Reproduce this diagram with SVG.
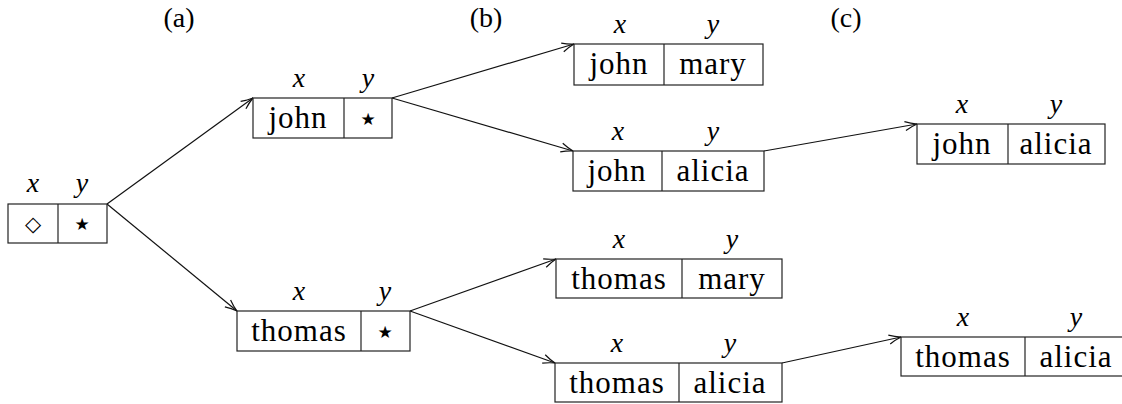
<svg xmlns="http://www.w3.org/2000/svg" width="1122" height="404" viewBox="0 0 1122 404">
<style>
.box{fill:#fff;stroke:#222;stroke-width:1.2}
.div{stroke:#222;stroke-width:1.2}
text{font-family:'Liberation Serif','Tinos','Nimbus Roman','Times New Roman','DejaVu Serif',serif;fill:#000;text-anchor:middle}
.t{font-size:31px;letter-spacing:1px}
.v{font-style:italic;font-size:28px}
.cap{font-size:28px}
.sym{font-family:'DejaVu Sans',sans-serif;font-size:17px}
.edge{stroke:#111;stroke-width:1.2;fill:none;marker-end:url(#arr)}
</style>
<defs>
<marker id="arr" viewBox="-13 -6 15 12" refX="0" refY="0" markerWidth="15" markerHeight="12" markerUnits="userSpaceOnUse" orient="auto">
<path d="M-12,-4.5 Q-6,-1.5 0,0 Q-6,1.5 -12,4.5" fill="none" stroke="#111" stroke-width="1.2"/>
</marker>
</defs>
<text class="cap" x="179" y="27">(a)</text>
<text class="cap" x="486" y="27">(b)</text>
<text class="cap" x="846" y="27">(c)</text>
<g id="edges">
<line class="edge" x1="107" y1="204" x2="253" y2="98"/>
<line class="edge" x1="107" y1="204" x2="237" y2="311"/>
<line class="edge" x1="392" y1="98" x2="574" y2="44"/>
<line class="edge" x1="392" y1="98" x2="573" y2="151"/>
<line class="edge" x1="764" y1="151" x2="917" y2="124"/>
<line class="edge" x1="410" y1="311" x2="556" y2="259"/>
<line class="edge" x1="410" y1="311" x2="555" y2="363"/>
<line class="edge" x1="782" y1="363" x2="901" y2="337"/>
</g>
<g id="root">
<text class="v" x="33" y="192">x</text><text class="v" x="82" y="192">y</text>
<rect class="box" x="8" y="204" width="99" height="39"/>
<line class="div" x1="58" y1="204" x2="58" y2="243"/>
<text class="sym" x="33" y="231" style="font-size:21px">◇</text><text class="sym" x="82" y="230">★</text>
</g>
<g id="john-star">
<text class="v" x="299" y="87">x</text><text class="v" x="368" y="87">y</text>
<rect class="box" x="253" y="98" width="139" height="40"/>
<line class="div" x1="344" y1="98" x2="344" y2="138"/>
<text class="t" x="298" y="128">john</text><text class="sym" x="368" y="125">★</text>
</g>
<g id="john-mary">
<text class="v" x="620" y="33">x</text><text class="v" x="713" y="33">y</text>
<rect class="box" x="574" y="44" width="189" height="41"/>
<line class="div" x1="664" y1="44" x2="664" y2="85"/>
<text class="t" x="619" y="74">john</text><text class="t" x="713" y="74">mary</text>
</g>
<g id="john-alicia-b">
<text class="v" x="618" y="140">x</text><text class="v" x="713" y="140">y</text>
<rect class="box" x="573" y="151" width="191" height="40"/>
<line class="div" x1="662" y1="151" x2="662" y2="191"/>
<text class="t" x="617" y="181">john</text><text class="t" x="713" y="181">alicia</text>
</g>
<g id="john-alicia-c">
<text class="v" x="962" y="113">x</text><text class="v" x="1056" y="113">y</text>
<rect class="box" x="917" y="124" width="188" height="40"/>
<line class="div" x1="1008" y1="124" x2="1008" y2="164"/>
<text class="t" x="962" y="154">john</text><text class="t" x="1056" y="154">alicia</text>
</g>
<g id="thomas-star">
<text class="v" x="299" y="300">x</text><text class="v" x="385" y="300">y</text>
<rect class="box" x="237" y="311" width="173" height="40"/>
<line class="div" x1="361" y1="311" x2="361" y2="351"/>
<text class="t" x="299" y="341">thomas</text><text class="sym" x="385" y="338">★</text>
</g>
<g id="thomas-mary">
<text class="v" x="619" y="248">x</text><text class="v" x="732" y="248">y</text>
<rect class="box" x="556" y="259" width="226" height="39"/>
<line class="div" x1="682" y1="259" x2="682" y2="298"/>
<text class="t" x="619" y="289">thomas</text><text class="t" x="732" y="289">mary</text>
</g>
<g id="thomas-alicia-b">
<text class="v" x="617" y="352">x</text><text class="v" x="730" y="352">y</text>
<rect class="box" x="555" y="363" width="227" height="39"/>
<line class="div" x1="679" y1="363" x2="679" y2="402"/>
<text class="t" x="617" y="393">thomas</text><text class="t" x="730" y="393">alicia</text>
</g>
<g id="thomas-alicia-c">
<text class="v" x="963" y="326">x</text><text class="v" x="1076" y="326">y</text>
<rect class="box" x="901" y="337" width="227" height="39"/>
<line class="div" x1="1025" y1="337" x2="1025" y2="376"/>
<text class="t" x="963" y="367">thomas</text><text class="t" x="1076" y="367">alicia</text>
</g>
</svg>
